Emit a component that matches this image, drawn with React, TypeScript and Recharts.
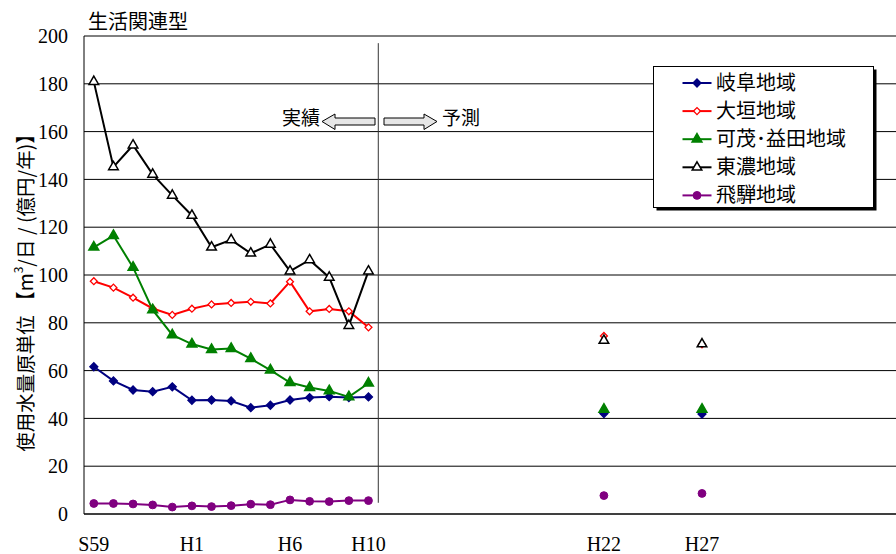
import React from 'react';
import { LineChart, Line, XAxis, YAxis, CartesianGrid, Legend, ReferenceLine, Symbols } from 'recharts';

// 年度カテゴリ (S59〜H37)
const categories = [
  'S59', 'S60', 'S61', 'S62', 'S63',
  'H1', 'H2', 'H3', 'H4', 'H5', 'H6', 'H7', 'H8', 'H9', 'H10',
  'H11', 'H12', 'H13', 'H14', 'H15', 'H16', 'H17', 'H18', 'H19', 'H20',
  'H21', 'H22', 'H23', 'H24', 'H25', 'H26', 'H27', 'H28', 'H29', 'H30',
  'H31', 'H32', 'H33', 'H34', 'H35', 'H36', 'H37',
];
const labelTicks = ['S59', 'H1', 'H6', 'H10', 'H22', 'H27'];
const actualYears = ['S59', 'S60', 'S61', 'S62', 'S63', 'H1', 'H2', 'H3', 'H4', 'H5', 'H6', 'H7', 'H8', 'H9', 'H10'];
const forecastYears = ['H22', 'H27'];
const yTicks = [0, 20, 40, 60, 80, 100, 120, 140, 160, 180, 200];

const gifuActual = [61.6, 55.7, 51.9, 51.2, 53.2, 47.6, 47.7, 47.3, 44.5, 45.5, 47.7, 48.7, 49.1, 48.7, 49.0];
const gifuForecast = [42.0, 41.8];
const ogakiActual = [97.4, 94.7, 90.5, 86.0, 83.3, 85.9, 87.7, 88.3, 88.8, 88.1, 97.2, 84.8, 85.8, 84.8, 78.1];
const ogakiForecast = [74.5, 71.0];
const kamoActual = [111.6, 116.5, 103.2, 85.4, 74.9, 71.1, 68.8, 69.2, 65.0, 60.2, 55.0, 52.9, 51.5, 49.0, 54.7];
const kamoForecast = [43.8, 43.8];
const tonoActual = [180.9, 145.2, 154.3, 142.1, 133.3, 124.9, 111.6, 114.7, 109.1, 112.8, 101.6, 106.3, 99.0, 78.8, 101.6];
const tonoForecast = [72.6, 71.1];
const hidaActual = [4.4, 4.4, 4.2, 3.8, 2.9, 3.4, 3.1, 3.5, 4.1, 3.9, 5.9, 5.3, 5.2, 5.6, 5.6];
const hidaForecast = [7.7, 8.6];

const series = [
  { key: 'gifu', name: '岐阜地域', color: '#000080', shape: 'diamond', filled: true, actual: gifuActual, forecast: gifuForecast },
  { key: 'ogaki', name: '大垣地域', color: '#ff0000', shape: 'diamond', filled: false, actual: ogakiActual, forecast: ogakiForecast },
  { key: 'kamo', name: '可茂･益田地域', color: '#008000', shape: 'triangle', filled: true, actual: kamoActual, forecast: kamoForecast },
  { key: 'tono', name: '東濃地域', color: '#000000', shape: 'triangle', filled: false, actual: tonoActual, forecast: tonoForecast },
  { key: 'hida', name: '飛騨地域', color: '#800080', shape: 'circle', filled: true, actual: hidaActual, forecast: hidaForecast },
];

const rows = categories.map((cat, pos) => {
  const row: any = { cat, pos };
  const ai = actualYears.indexOf(cat);
  const fi = forecastYears.indexOf(cat);
  series.forEach((s) => {
    row[s.key] = ai >= 0 ? s.actual[ai] : fi >= 0 ? s.forecast[fi] : null;
  });
  return row;
});

const serif = "'Times New Roman', 'Liberation Serif', serif";
const gothic = "'Noto Sans CJK JP', 'Noto Sans', sans-serif";

const boundaryTicks = categories.map((_, i) => i - 0.5).concat([categories.length - 0.5]);
const labelPositions = labelTicks.map((l) => categories.indexOf(l));
const dividerPos = categories.indexOf('H10') + 0.5;

function Marker({ cx, cy, s }: any) {
  if (cx == null || cy == null) return null;
  const fill = s.filled ? s.color : '#ffffff';
  if (s.shape === 'diamond') {
    return (
      <g transform={`rotate(45 ${cx} ${cy})`}>
        <Symbols cx={cx} cy={cy} type="square" size={s.filled ? 32 : 24} fill={fill} stroke={s.color} strokeWidth={1.3} />
      </g>
    );
  }
  if (s.shape === 'triangle') {
    return <Symbols cx={cx} cy={cy} type="triangle" size={s.filled ? 42 : 40} fill={fill} stroke={s.color} strokeWidth={1.5} />;
  }
  return <Symbols cx={cx} cy={cy} type="circle" size={48} fill={fill} stroke={s.color} strokeWidth={1} />;
}

const seriesOrder = (entry: any) => series.findIndex((x) => x.key === entry.dataKey);

const renderLegend = (props: any) => {
  const payload = [...(props.payload || [])].sort((a: any, b: any) => seriesOrder(a) - seriesOrder(b));
  return (
    <svg width={226} height={146} style={{ display: 'block' }}>
      <rect x={3.5} y={3.5} width={220} height={141} fill="#000" />
      <rect x={0.5} y={0.5} width={220} height={141} fill="#fff" stroke="#000" />
      {payload.map((entry: any, i: number) => {
        const s = series[seriesOrder(entry)] || series[i];
        const y = 17 + i * 28.1;
        return (
          <g key={s.key}>
            <line x1={29.5} x2={58.5} y1={y} y2={y} stroke={entry.color || s.color} strokeWidth={2} />
            <Marker cx={44} cy={y} s={s} />
            <text x={63} y={y + 7} fontSize={20} fontFamily={gothic} fill="#000">{entry.value}</text>
          </g>
        );
      })}
    </svg>
  );
};

export default function App() {
  return (
    <div style={{ position: 'absolute', left: 0, top: 0, width: 896, height: 554, overflow: 'hidden', background: '#fff' }}>
      <LineChart width={908} height={554} data={rows} margin={{ top: 36, right: 0, bottom: 0, left: 0 }}>
        <CartesianGrid vertical={false} stroke="#000" strokeWidth={1} />
        <XAxis
          xAxisId="marks"
          type="number"
          dataKey="pos"
          domain={[-0.5, categories.length - 0.5]}
          allowDataOverflow
          ticks={boundaryTicks}
          interval={0}
          tick={false}
          tickSize={6}
          mirror
          height={1}
          stroke="#000"
          tickLine={{ stroke: '#000' }}
        />
        <XAxis
          xAxisId="labels"
          type="number"
          dataKey="pos"
          domain={[-0.5, categories.length - 0.5]}
          allowDataOverflow
          ticks={labelPositions}
          interval={0}
          tickFormatter={(v: number) => categories[v]}
          axisLine={false}
          tickLine={false}
          tickSize={6}
          tickMargin={17}
          height={40}
          tick={{ fontSize: 20, fontFamily: serif, fill: '#000' }}
        />
        <YAxis
          domain={[0, 200]}
          ticks={yTicks}
          interval={0}
          width={84}
          axisLine={{ stroke: '#000' }}
          tickLine={false}
          tickMargin={10}
          tick={{ fontSize: 20, fontFamily: serif, fill: '#000' }}
        />
        <ReferenceLine
          xAxisId="marks"
          segment={[{ x: dividerPos, y: 4.7 }, { x: dividerPos, y: 197 }]}
          stroke="#333"
          strokeWidth={1}
        />
        <Legend
          layout="vertical"
          align="center"
          verticalAlign="middle"
          content={renderLegend}
          wrapperStyle={{ left: 653, top: 66, width: 226, height: 146 }}
        />
        {series.map((s) => (
          <Line
            key={s.key}
            xAxisId="marks"
            type="linear"
            dataKey={s.key}
            name={s.name}
            stroke={s.color}
            strokeWidth={2}
            dot={(p: any) => <Marker key={`${s.key}-${p.index}`} cx={p.cx} cy={p.value == null ? null : p.cy} s={s} />}
            activeDot={false}
            connectNulls={false}
            isAnimationActive={false}
          />
        ))}
      </LineChart>
      <svg width={896} height={554} style={{ position: 'absolute', left: 0, top: 0, pointerEvents: 'none' }}>
        <text x={88} y={29} fontSize={20} fontFamily={gothic} fill="#000">生活関連型</text>
        <text
          transform="translate(24 288) rotate(-90)"
          textAnchor="middle"
          dominantBaseline="central"
          fontSize={19.5}
          fontFamily={gothic}
          fill="#000"
        >
          使用水量原単位 【m<tspan dy={-7} fontSize={12}>3</tspan><tspan dy={7}>/日 / (億円/年)】</tspan>
        </text>
        <text x={320} y={125} textAnchor="end" fontSize={19} fontFamily={gothic} fill="#000">実績</text>
        <polygon
          points="322,121.5 335,114 335,118 375,118 375,125 335,125 335,129.5"
          fill="#e6e6e6"
          stroke="#000"
          strokeWidth={1}
        />
        <polygon
          points="437,121.5 424,114 424,118 384,118 384,125 424,125 424,129.5"
          fill="#e6e6e6"
          stroke="#000"
          strokeWidth={1}
        />
        <text x={442} y={125} fontSize={19} fontFamily={gothic} fill="#000">予測</text>
      </svg>
    </div>
  );
}
